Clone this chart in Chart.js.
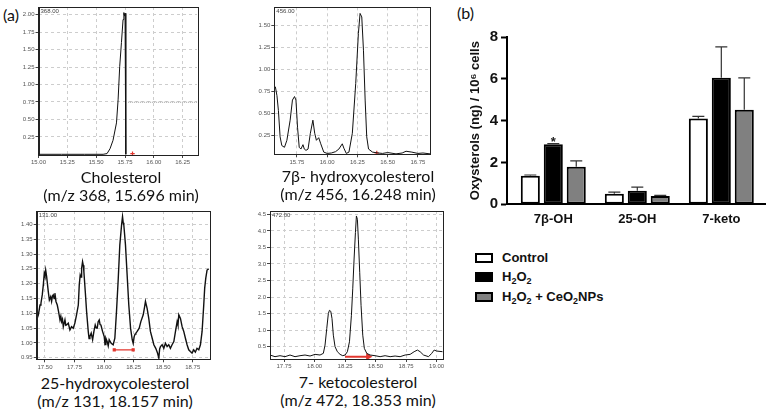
<!DOCTYPE html>
<html>
<head>
<meta charset="utf-8">
<script src="https://cdn.jsdelivr.net/npm/chart.js@4.4.1/dist/chart.umd.min.js"></script>
<style>
  body { margin: 0; background: #fff; }
  #page { position: relative; width: 770px; height: 412px; overflow: hidden; font-family: 'Lato', sans-serif; color: #111; }
  canvas { position: absolute; }
  .cap { position: absolute; width: 220px; text-align: center; font-size: 16px; line-height: 18px; }
  .tag { position: absolute; font-size: 16px; line-height: 18px; }
  .leg { position: absolute; left: 475px; height: 12px; font: bold 13px 'Liberation Sans', Arial, sans-serif; }
  .leg i { position: absolute; left: 0; top: 0; width: 14px; height: 6px; border: 2px solid #000; }
  .leg span { position: absolute; left: 27px; top: -3px; white-space: nowrap; }
  sub { font-size: 9px; vertical-align: -3px; line-height: 0; }
</style>
</head>
<body>
<div id="page">
  <div class="tag" style="left:3px; top:6px;">(a)</div>
  <div class="tag" style="left:457px; top:4px;">(b)</div>

  <canvas id="chol" width="205" height="168" style="left:0px; top:0px;"></canvas>
  <canvas id="hydroxy7b" width="200" height="168" style="left:240px; top:0px;"></canvas>
  <canvas id="hydroxy25" width="215" height="172" style="left:0px; top:200px;"></canvas>
  <canvas id="keto7" width="210" height="172" style="left:240px; top:200px;"></canvas>
  <canvas id="bars" width="320" height="205" style="left:450px; top:25px;"></canvas>

  <div class="cap" style="left:11px; top:168px;">Cholesterol<br>(m/z 368, 15.696 min)</div>
  <div class="cap" style="left:248px; top:167px;">7β- hydroxycolesterol<br>(m/z 456, 16.248 min)</div>
  <div class="cap" style="left:5px; top:374px;">25-hydroxycolesterol<br>(m/z 131, 18.157 min)</div>
  <div class="cap" style="left:248px; top:373px;">7- ketocolesterol<br>(m/z 472, 18.353 min)</div>

  <div class="leg" style="top:253px;"><i style="background:#fff;"></i><span>Control</span></div>
  <div class="leg" style="top:272px;"><i style="background:#000;"></i><span>H<sub>2</sub>O<sub>2</sub></span></div>
  <div class="leg" style="top:292px;"><i style="background:#808080;"></i><span>H<sub>2</sub>O<sub>2</sub> + CeO<sub>2</sub>NPs</span></div>
</div>

<script>
// ---- panel (a): chromatograms, retention time (min) vs abundance ----
const cholTime   = [15.00, 15.20, 15.40, 15.56, 15.594, 15.62, 15.646, 15.676, 15.690, 15.704, 15.719, 15.733, 15.740, 15.746, 15.750, 15.757];
const cholSignal = [0.00, 0.00, 0.00, 0.00, 0.01, 0.08, 0.20, 0.45, 0.78, 1.26, 1.60, 1.93, 2.03, 1.98, 2.02, 0.00];
const cholLevelTime = [15.777, 16.374];
const cholLevel     = [0.746, 0.746];
const cholMarkTime  = [15.815];
const cholMark      = [0.01];
const cholXTicks = [15.00, 15.25, 15.50, 15.75, 16.00, 16.25];
const cholYTicks = [0.25, 0.50, 0.75, 1.00, 1.25, 1.50, 1.75, 2.00];

const oh7bTime   = [15.563, 15.572, 15.585, 15.597, 15.611, 15.625, 15.647, 15.667, 15.694, 15.713, 15.730, 15.742, 15.755, 15.769, 15.783, 15.800, 15.811, 15.825, 15.842, 15.861, 15.882, 15.897, 15.911, 15.930, 15.947, 15.972, 16.000, 16.035, 16.069, 16.097, 16.125, 16.138, 16.158, 16.180, 16.208, 16.236, 16.258, 16.272, 16.286, 16.300, 16.314, 16.327, 16.342, 16.375, 16.420, 16.458, 16.500, 16.569, 16.620, 16.652, 16.700, 16.750, 16.792, 16.850];
const oh7bSignal = [0.80, 0.80, 0.70, 0.53, 0.23, 0.13, 0.11, 0.19, 0.42, 0.65, 0.69, 0.65, 0.34, 0.11, 0.09, 0.14, 0.09, 0.075, 0.09, 0.27, 0.42, 0.27, 0.19, 0.22, 0.15, 0.055, 0.04, 0.045, 0.06, 0.09, 0.15, 0.10, 0.04, 0.055, 0.27, 0.84, 1.41, 1.64, 1.60, 1.22, 0.65, 0.23, 0.09, 0.055, 0.045, 0.04, 0.05, 0.035, 0.045, 0.065, 0.055, 0.04, 0.045, 0.035];
const oh7bMarkTime = [16.41];
const oh7bMark     = [0.045];
const oh7bXTicks = [15.75, 16.00, 16.25, 16.50, 16.75];
const oh7bYTicks = [0.25, 0.50, 0.75, 1.00, 1.25, 1.50];

const oh25Time   = [17.430, 17.444, 17.458, 17.466, 17.477, 17.486, 17.494, 17.500, 17.506, 17.514, 17.528, 17.537, 17.548, 17.556, 17.563, 17.570, 17.577, 17.584, 17.593, 17.604, 17.615, 17.627, 17.634, 17.641, 17.648, 17.655, 17.669, 17.676, 17.683, 17.697, 17.711, 17.725, 17.739, 17.753, 17.767, 17.782, 17.790, 17.798, 17.805, 17.810, 17.818, 17.824, 17.829, 17.841, 17.852, 17.866, 17.873, 17.880, 17.891, 17.903, 17.914, 17.925, 17.934, 17.942, 17.950, 17.959, 17.966, 17.973, 17.987, 18.001, 18.008, 18.015, 18.026, 18.035, 18.043, 18.060, 18.077, 18.091, 18.105, 18.120, 18.133, 18.148, 18.156, 18.162, 18.167, 18.181, 18.195, 18.209, 18.224, 18.238, 18.246, 18.255, 18.262, 18.269, 18.280, 18.297, 18.311, 18.331, 18.342, 18.350, 18.357, 18.364, 18.378, 18.392, 18.407, 18.421, 18.437, 18.452, 18.463, 18.470, 18.477, 18.491, 18.505, 18.519, 18.533, 18.547, 18.561, 18.575, 18.590, 18.604, 18.618, 18.625, 18.632, 18.646, 18.660, 18.674, 18.688, 18.702, 18.716, 18.730, 18.744, 18.758, 18.772, 18.786, 18.801, 18.815, 18.829, 18.843, 18.851, 18.860, 18.871, 18.885];
const oh25Signal = [1.078, 1.095, 1.128, 1.134, 1.162, 1.196, 1.235, 1.226, 1.246, 1.224, 1.173, 1.145, 1.156, 1.140, 1.158, 1.162, 1.150, 1.168, 1.140, 1.128, 1.106, 1.078, 1.090, 1.072, 1.080, 1.055, 1.078, 1.060, 1.061, 1.067, 1.044, 1.055, 1.050, 1.067, 1.095, 1.128, 1.196, 1.229, 1.222, 1.252, 1.274, 1.262, 1.241, 1.173, 1.106, 1.039, 1.015, 1.022, 1.033, 1.011, 1.039, 1.061, 1.050, 1.050, 1.072, 1.078, 1.062, 1.061, 1.039, 1.022, 0.995, 1.016, 1.005, 0.990, 1.011, 0.999, 0.994, 1.016, 1.106, 1.218, 1.330, 1.398, 1.426, 1.405, 1.398, 1.330, 1.229, 1.128, 1.050, 1.011, 0.999, 1.022, 1.030, 1.033, 1.039, 1.050, 1.072, 1.095, 1.120, 1.140, 1.128, 1.117, 1.083, 1.039, 1.016, 0.994, 0.982, 0.966, 0.949, 0.980, 0.988, 0.994, 0.982, 0.999, 0.988, 0.994, 0.982, 0.994, 1.005, 1.039, 1.072, 1.060, 1.095, 1.083, 1.055, 1.039, 1.016, 0.994, 0.977, 0.971, 0.966, 0.977, 0.969, 0.982, 0.977, 0.994, 1.039, 1.128, 1.185, 1.218, 1.246, 1.250];
const oh25MarkTime = [18.086, 18.246];
const oh25Mark     = [0.977, 0.977];
const oh25XTicks = [17.50, 17.75, 18.00, 18.25, 18.50, 18.75];
const oh25YTicks = [0.95, 1.00, 1.05, 1.10, 1.15, 1.20, 1.25, 1.30, 1.35, 1.40];

const ketoTime   = [17.635, 17.676, 17.717, 17.758, 17.799, 17.840, 17.881, 17.922, 17.963, 18.004, 18.045, 18.072, 18.086, 18.100, 18.113, 18.122, 18.133, 18.143, 18.154, 18.168, 18.187, 18.209, 18.231, 18.250, 18.269, 18.286, 18.302, 18.313, 18.324, 18.335, 18.343, 18.351, 18.359, 18.370, 18.381, 18.395, 18.408, 18.428, 18.455, 18.496, 18.537, 18.578, 18.619, 18.660, 18.701, 18.742, 18.783, 18.816, 18.843, 18.865, 18.893, 18.934, 18.960, 18.980, 19.001, 19.050];
const ketoSignal = [0.25, 0.20, 0.23, 0.20, 0.25, 0.20, 0.23, 0.25, 0.22, 0.27, 0.25, 0.30, 0.55, 1.05, 1.50, 1.60, 1.57, 1.35, 0.85, 0.50, 0.35, 0.27, 0.23, 0.25, 0.35, 0.65, 1.45, 2.25, 3.15, 3.95, 4.45, 4.35, 3.75, 2.75, 1.75, 0.85, 0.45, 0.30, 0.25, 0.23, 0.20, 0.23, 0.20, 0.22, 0.20, 0.25, 0.27, 0.35, 0.40, 0.35, 0.25, 0.20, 0.30, 0.40, 0.37, 0.35];
const ketoMarkTime = [18.25, 18.44];
const ketoMark     = [0.20, 0.20];
const ketoXTicks = [17.75, 18.00, 18.25, 18.50, 18.75, 19.00];
const ketoYTicks = [0.5, 1.0, 1.5, 2.0, 2.5, 3.0, 3.5, 4.0, 4.5];

// ---- panel (b): oxysterols (ng) / 10^6 cells ----
const categories = ['7β-OH', '25-OH', '7-keto'];
const seriesNames = ['Control', 'H₂O₂', 'H₂O₂ + CeO₂NPs'];
const controlMean = [1.37, 0.50, 4.10];
const controlErr  = [0.03, 0.08, 0.10];
const h2o2Mean    = [2.87, 0.65, 6.05];
const h2o2Err     = [0.03, 0.17, 1.48];
const ceo2Mean    = [1.80, 0.40, 4.52];
const ceo2Err     = [0.28, 0.03, 1.53];
const barYTicks = [0, 2, 4, 6, 8];
const starred = [{ series: 1, cat: 0 }];

const pts = (xs, ys) => xs.map((x, i) => ({ x: x, y: ys[i] }));
const RED = '#e2362e';

// box round the plot area plus the small ion label in its corner
Chart.register({
    id: 'frame',
    defaults: { label: '' },
    afterDraw(chart, args, opts) {
        if (!opts.label) return;
        const { ctx, chartArea: a } = chart;
        ctx.save();
        ctx.strokeStyle = '#222';
        ctx.lineWidth = 1;
        ctx.strokeRect(Math.round(a.left) + 0.5, Math.round(a.top) + 0.5, Math.round(a.right - a.left), Math.round(a.bottom - a.top));
        ctx.font = '6px "Liberation Sans"';
        ctx.fillStyle = '#444';
        ctx.textBaseline = 'top';
        ctx.fillText(opts.label, a.left + 2, a.top + 1.5);
        ctx.restore();
    }
});

function axis(min, max, ticks, dec, fit) {
    return {
        type: 'linear', min: min, max: max, offset: false,
        afterBuildTicks: s => { s.ticks = ticks.map(v => ({ value: v })); },
        afterFit: fit,
        ticks: { font: { size: 6, family: 'Liberation Sans' }, color: '#555', padding: 1, autoSkip: false, maxRotation: 0, callback: v => v.toFixed(dec) },
        grid: { color: '#cdcdcd', lineWidth: 1, tickLength: 3, tickColor: '#444', tickWidth: 1 },
        border: { color: '#222', width: 1, dash: [3, 3] }
    };
}

function chromatogram(id, c) {
    const sets = [{ data: pts(c.time, c.signal), borderColor: '#111', borderWidth: c.lw || 1, pointRadius: 0 }];
    (c.extra || []).forEach(e => sets.push(e));
    return new Chart(document.getElementById(id), {
        type: 'line',
        data: { datasets: sets },
        options: {
            responsive: false, animation: false, events: [],
            layout: { padding: c.pad },
            elements: { line: { tension: 0 } },
            plugins: { legend: { display: false }, tooltip: { enabled: false }, frame: { label: c.label } },
            scales: {
                x: axis(c.xMin, c.xMax, c.xTicks, 2, s => { s.height = c.xh; }),
                y: axis(c.yMin, c.yMax, c.yTicks, c.yDec, s => { s.width = c.yw; })
            }
        }
    });
}

function redMark(xs, ys, style, joined) {
    return { data: pts(xs, ys), borderColor: RED, backgroundColor: RED, borderWidth: 1.2,
             pointRadius: 1.4, pointStyle: style, showLine: joined };
}

chromatogram('chol', {
    time: cholTime, signal: cholSignal, label: '368.00',
    xMin: 15.0, xMax: 16.374, yMin: -0.01, yMax: 2.11, xTicks: cholXTicks, yTicks: cholYTicks, yDec: 2,
    pad: { top: 7, right: 8 }, yw: 38.5, xh: 13,
    extra: [
        { data: pts(cholLevelTime, cholLevel), borderColor: '#999', borderWidth: 1, borderDash: [1, 1], pointRadius: 0 },
        Object.assign(redMark(cholMarkTime, cholMark, 'cross', false), { pointRadius: 2.2 })
    ]
});

chromatogram('hydroxy7b', {
    time: oh7bTime, signal: oh7bSignal, label: '456.00',
    xMin: 15.563, xMax: 16.85, yMin: 0.03, yMax: 1.71, xTicks: oh7bXTicks, yTicks: oh7bYTicks, yDec: 2,
    pad: { top: 7.3, right: 10 }, yw: 34.3, xh: 13.7,
    extra: [Object.assign(redMark(oh7bMarkTime, oh7bMark, 'cross', false), { pointRadius: 2.2 })]
});

chromatogram('hydroxy25', {
    time: oh25Time, signal: oh25Signal, label: '131.00', lw: 1.4,
    xMin: 17.43, xMax: 18.89, yMin: 0.945, yMax: 1.445, xTicks: oh25XTicks, yTicks: oh25YTicks, yDec: 2,
    pad: { top: 11, right: 5.7 }, yw: 36.7, xh: 12.7,
    extra: [redMark(oh25MarkTime, oh25Mark, 'rect', true)]
});

chromatogram('keto7', {
    time: ketoTime, signal: ketoSignal, label: '472.00',
    xMin: 17.635, xMax: 19.05, yMin: 0.13, yMax: 4.6, xTicks: ketoXTicks, yTicks: ketoYTicks, yDec: 1,
    pad: { top: 11, right: 7.3 }, yw: 30, xh: 13,
    extra: [Object.assign(redMark(ketoMarkTime, ketoMark, 'triangle', true), { borderWidth: 2, pointRadius: [0, 2.2], pointRotation: 90 })]
});

// error bars (upper only) and significance star
const errorBars = {
    id: 'errorBars',
    afterDatasetsDraw(chart) {
        const { ctx } = chart;
        const y = chart.scales.y;
        ctx.save();
        ctx.strokeStyle = '#333';
        ctx.lineWidth = 1.2;
        chart.data.datasets.forEach((ds, i) => {
            chart.getDatasetMeta(i).data.forEach((bar, j) => {
                const top = y.getPixelForValue(ds.data[j].y + ds.errors[j]);
                ctx.beginPath();
                ctx.moveTo(bar.x, bar.y);
                ctx.lineTo(bar.x, top);
                ctx.moveTo(bar.x - 6, top);
                ctx.lineTo(bar.x + 6, top);
                ctx.stroke();
            });
        });
        ctx.font = 'bold 13px "Liberation Sans"';
        ctx.fillStyle = '#222';
        ctx.textAlign = 'center';
        starred.forEach(m => {
            const ds = chart.data.datasets[m.series];
            const bar = chart.getDatasetMeta(m.series).data[m.cat];
            ctx.fillText('*', bar.x, y.getPixelForValue(ds.data[m.cat].y + ds.errors[m.cat]) + 2);
        });
        ctx.restore();
    }
};

const barSeries = [
    { means: controlMean, errs: controlErr, fill: '#ffffff' },
    { means: h2o2Mean, errs: h2o2Err, fill: '#000000' },
    { means: ceo2Mean, errs: ceo2Err, fill: '#808080' }
];

new Chart(document.getElementById('bars'), {
    type: 'bar',
    data: {
        datasets: barSeries.map((s, k) => ({
            label: seriesNames[k],
            data: s.means.map((v, i) => ({ x: i + 1, y: v })),
            errors: s.errs,
            backgroundColor: s.fill,
            borderColor: '#000',
            borderWidth: 2,
            borderSkipped: false,
            categoryPercentage: 0.82,
            barPercentage: 0.83
        }))
    },
    options: {
        responsive: false, animation: false, events: [],
        layout: { padding: { top: 10.5, right: 5 } },
        plugins: { legend: { display: false }, tooltip: { enabled: false } },
        scales: {
            x: {
                type: 'linear', min: 0.449, max: 3.52, offset: false,
                afterBuildTicks: s => { s.ticks = categories.map((c, i) => ({ value: i + 1 })); },
                afterFit: s => { s.height = 25.7; },
                ticks: { callback: v => categories[v - 1], font: { size: 13, weight: 'bold', family: 'Liberation Sans' }, color: '#111', padding: 7, autoSkip: false, maxRotation: 0 },
                grid: { display: false, drawTicks: false, offset: false },
                border: { color: '#000', width: 2 }
            },
            y: {
                min: 0, max: 8,
                afterBuildTicks: s => { s.ticks = barYTicks.map(v => ({ value: v })); },
                afterFit: s => { s.width = 57; },
                ticks: { font: { size: 15, weight: 'bold', family: 'Liberation Sans' }, color: '#111', padding: 3 },
                grid: { drawOnChartArea: false, tickLength: 6, tickColor: '#000', tickWidth: 2 },
                border: { color: '#000', width: 2 },
                title: { display: true, text: 'Oxysterols (ng) / 10⁶ cells', font: { size: 13, weight: 'bold', family: 'Liberation Sans' }, color: '#111', padding: { top: 18, bottom: 0 } }
            }
        }
    },
    plugins: [errorBars]
});
</script>
</body>
</html>
